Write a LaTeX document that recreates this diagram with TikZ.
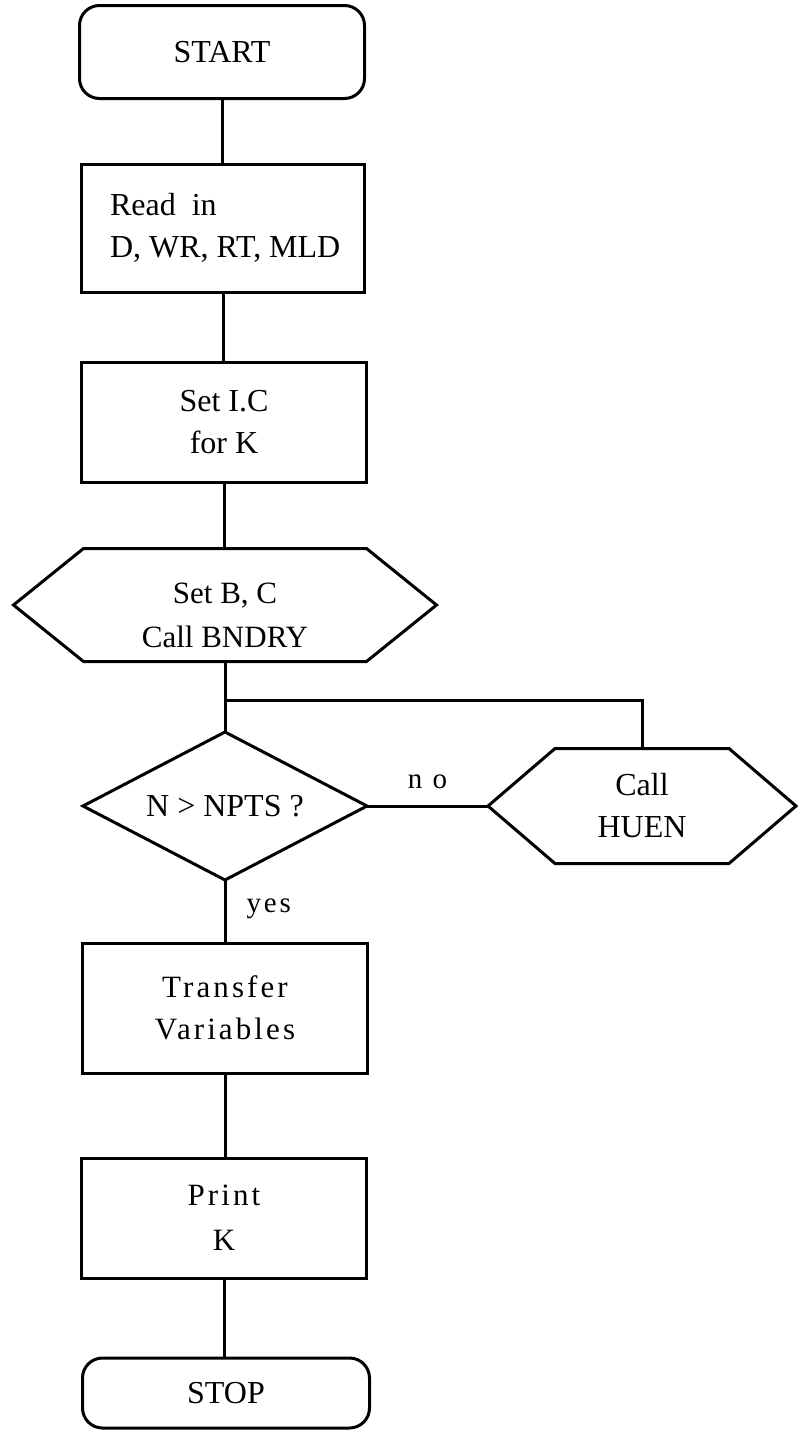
\documentclass[tikz,border=0pt]{standalone}
\usepackage{fontspec}
\setmainfont{Liberation Serif}
\usetikzlibrary{calc}
\newcommand\lowr[1]{\raisebox{-10pt}[\height][\depth]{#1}}
\newcommand\lline[1]{\makebox[226pt][l]{#1}}
\begin{document}
\begin{tikzpicture}[x=1pt,y=-1pt, line width=3pt,
  txt/.style={font=\fontsize{32}{42}\selectfont},
  sptxt/.style={font=\fontsize{31}{42}\selectfont\addfontfeature{LetterSpace=10}},
  box/.style={draw, rectangle, minimum width=285pt, inner sep=0pt, outer sep=0pt, align=center, txt},
  term/.style={box, rounded corners=20pt},
  shp/.style={inner sep=0pt, outer sep=0pt, align=center, txt},
  lbl/.style={inner sep=0pt, font=\fontsize{29}{30}\selectfont\addfontfeature{LetterSpace=10}}]
\useasboundingbox (0,0) rectangle (798,1430);

% nodes
\node[term, minimum height=93pt] (start) at (222,52) {START};
\node[box, minimum width=283pt, minimum height=128pt] (read) at (223,228) {\lline{Read~~in}\\\lline{D, WR, RT, MLD}};
\node[box, minimum height=120pt] (setic) at (224,422) {Set I.C\\for K};
\node[shp, minimum width=423pt, minimum height=113pt, font=\fontsize{31}{44}\selectfont] (bc) at (225,605) {\lowr{Set B, C}\\\lowr{Call BNDRY}};
\node[shp, minimum width=284pt, minimum height=148pt] (dec) at (225,806) {N > NPTS ?};
\node[shp, minimum width=308pt, minimum height=115pt] (huen) at (642,806) {Call\\HUEN};
\node[box, sptxt, minimum height=130pt] (tr) at (225,1008) {Transfer\\Variables};
\node[box, sptxt, minimum height=120pt, font=\fontsize{31}{45}\selectfont\addfontfeature{LetterSpace=10}] (pr) at (224,1218) {Print\\K};
\node[term, minimum width=287pt, minimum height=70pt] (stop) at (226,1393) {STOP};

% outlines of hexagons and decision
\draw (bc.west) -- ($(bc.north west)+(70,0)$) -- ($(bc.north east)+(-70,0)$) -- (bc.east)
      -- ($(bc.south east)+(-70,0)$) -- ($(bc.south west)+(70,0)$) -- cycle;
\draw (huen.west) -- ($(huen.north west)+(67,0)$) -- ($(huen.north east)+(-67,0)$) -- (huen.east)
      -- ($(huen.south east)+(-67,0)$) -- ($(huen.south west)+(67,0)$) -- cycle;
\draw (dec.north) -- (dec.east) -- (dec.south) -- (dec.west) -- cycle;

% connectors
\coordinate (j) at (dec.north |- 0,700);
\draw (start.south) -- (start.south |- read.north);
\draw (read.south) -- (read.south |- setic.north);
\draw (setic.south) -- (setic.south |- bc.north);
\draw (bc.south) -- (dec.north);
\draw (j) -- (j -| huen.north) -- (huen.north);
\draw (dec.east) -- node[lbl, above=16pt] {n o} (huen.west);
\draw (dec.south) -- node[lbl, anchor=west, xshift=20pt, yshift=3pt] {yes} (tr.north);
\draw (tr.south) -- (tr.south |- pr.north);
\draw (pr.south) -- (pr.south |- stop.north);
\end{tikzpicture}
\end{document}
